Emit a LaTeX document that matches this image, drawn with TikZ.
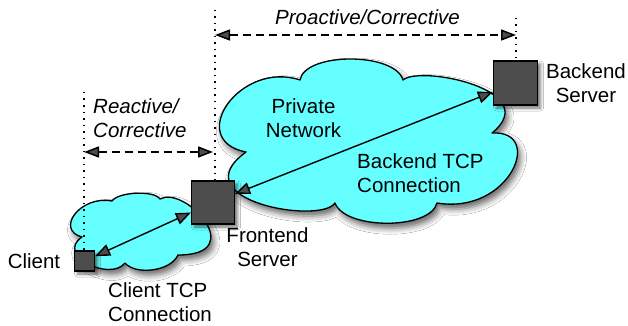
\documentclass[tikz,border=0pt]{standalone}
\usepackage{fontspec}
\setmainfont{Liberation Sans}
\usetikzlibrary{arrows.meta,shadows.blur}
\definecolor{cloudcyan}{RGB}{102,255,255}
\definecolor{boxgray}{RGB}{77,77,77}
\begin{document}
\begin{tikzpicture}[x=1pt,y=-1pt,
  cloudstyle/.style={fill=cloudcyan, draw=black, line width=1.3pt, line join=round,
    blur shadow={shadow xshift=3pt, shadow yshift=-5pt, shadow blur radius=6pt, shadow opacity=60}},
  server/.style={draw=black, fill=boxgray, line width=1.2pt, minimum size=#1, inner sep=0pt,
    blur shadow={shadow xshift=3pt, shadow yshift=-3pt, shadow blur radius=3pt, shadow opacity=55}},
  conn/.style={{Triangle[length=15pt,width=12pt]}-{Triangle[length=15pt,width=12pt]}, line width=1.4pt},
  span/.style={{Triangle[length=15pt,width=11pt]}-{Triangle[length=15pt,width=11pt]}, line width=1.5pt, dash pattern=on 8pt off 5pt},
  guide/.style={line width=1.4pt, dash pattern=on 1.5pt off 5pt},
  txt/.style={font=\fontsize{20.5}{24}\selectfont, inner sep=0pt},
  itxt/.style={font=\fontsize{20.5}{24}\selectfont\itshape, inner sep=0pt}]
\fill[white] (0,0) rectangle (628,326);
\useasboundingbox (0,0) rectangle (628,326);

% big cloud
\path[cloudstyle] (246,152) .. controls (185,140) and (240,60) .. (300,80)
  .. controls (305,52) and (395,52) .. (403,80)
  .. controls (420,65) and (545,90) .. (492,133)
  .. controls (545,130) and (510,215) .. (437,203)
  .. controls (430,230) and (345,230) .. (335,203)
  .. controls (320,225) and (180,200) .. (246,152) -- cycle;

% small cloud
\path[cloudstyle] (82,237) .. controls (55,230) and (80,195) .. (112,201)
  .. controls (118,192) and (154,190) .. (160,199)
  .. controls (185,185) and (250,255) .. (178,255)
  .. controls (170,272) and (135,275) .. (125,263)
  .. controls (110,282) and (55,255) .. (82,237) -- cycle;

% servers
\node[server=20pt] (client) at (84.5,261) {};
\node[server=43pt] (frontend) at (213,202.5) {};
\node[server=44pt] (backend) at (515.5,83) {};

% guide lines
\coordinate (fetop) at (215,10);
\coordinate (betop) at (516,18);
\coordinate (cltop) at (84,92);
\draw[guide] (fetop) -- (fetop |- frontend.north);
\draw[guide] (betop) -- (betop |- backend.north);
\draw[guide] (cltop) -- (cltop |- client.north);

% span arrows
\coordinate (pL) at (215,35);
\coordinate (pR) at (516,35);
\coordinate (rL) at (84,152);
\coordinate (rR) at (213,152);
\draw[span] (pL) -- (pR);
\draw[span] (rL) -- (rR);

% connections
\draw[conn] (client) -- (frontend);
\draw[conn] (frontend) -- (backend);

% labels
\node[txt, anchor=base] (lclient) at (34,268) {Client};
\node[txt, align=center, anchor=north] (lfront) at (267.5,227.3) {Frontend\\Server};
\node[txt, align=center, anchor=north] (lback) at (586,63.3) {Backend\\Server};
\node[txt, align=center, anchor=north] (lpriv) at (303.5,98.3) {Private\\Network};
\node[txt, align=left, anchor=north west] (lbtcp) at (357,153.3) {Backend TCP\\Connection};
\node[txt, align=left, anchor=north west] (lctcp) at (108,282.3) {Client TCP\\Connection};
\node[itxt, align=left, anchor=north west] (lreact) at (93,98.3) {Reactive/\\Corrective};
\node[itxt, anchor=base] (lproact) at (367.5,25) {Proactive/Corrective};
\end{tikzpicture}
\end{document}
